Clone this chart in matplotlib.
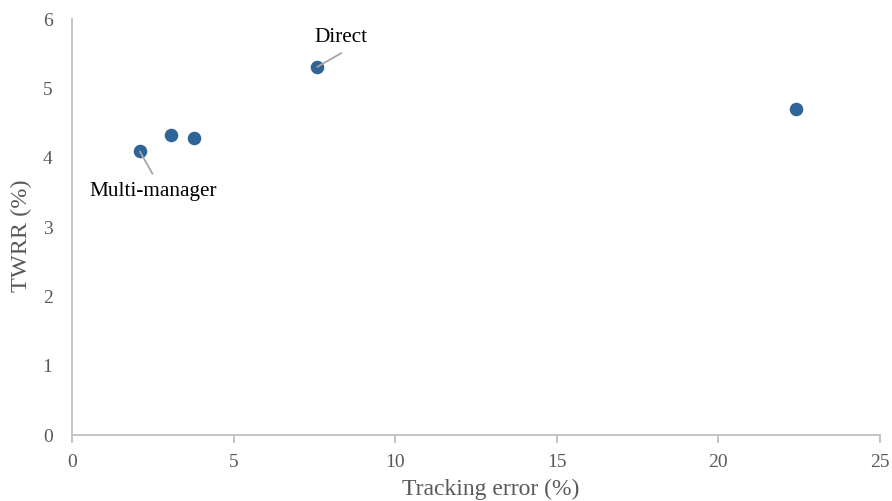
import matplotlib
matplotlib.use("Agg")
import matplotlib.pyplot as plt

# Data
tracking_error = [2.10, 3.06, 3.77, 7.59, 22.41]
twrr = [4.09, 4.32, 4.28, 5.31, 4.70]
labels = ["Multi-manager", None, None, "Direct", None]

x_ticks = [0, 5, 10, 15, 20, 25]
y_ticks = [0, 1, 2, 3, 4, 5, 6]

plt.rcParams['font.family'] = ['Liberation Serif', 'DejaVu Serif']

fig = plt.figure(figsize=(8.92, 5.01), dpi=100)
ax = fig.add_axes([72/892, 1-435/501, (880-72)/892, (435-19)/501])

ax.scatter(tracking_error, twrr, s=95, color='#2f6498', zorder=3, linewidths=0)

spine_c = '#bfbfbf'
for s in ['top', 'right']:
    ax.spines[s].set_visible(False)
for s in ['left', 'bottom']:
    ax.spines[s].set_color(spine_c)
    ax.spines[s].set_linewidth(1.3)

ax.set_xlim(0, 25)
ax.set_ylim(0, 6)
ax.set_xticks(x_ticks)
ax.set_yticks(y_ticks)
ax.tick_params(axis='x', direction='out', length=6, width=1.3, color=spine_c,
               labelcolor='#595959', labelsize=14, pad=8)
ax.tick_params(axis='y', length=0, labelcolor='#595959', labelsize=14, pad=14)

ax.set_xlabel('Tracking error (%)', fontsize=17, color='#595959')
ax.set_ylabel('TWRR (%)', fontsize=17.5, color='#595959')
ax.xaxis.set_label_coords(0.518, -0.105)
ax.yaxis.set_label_coords(-0.05, 0.48)

# label placement (offset points): text centre, leader end
placement = {"Direct": ((17.3, 21.4), (17.3, 9.9)),
             "Multi-manager": ((9.7, -29.2), (9.1, -16.1))}
for x, y, lab in zip(tracking_error, twrr, labels):
    if lab is None:
        continue
    txt_off, line_off = placement[lab]
    ax.annotate('', xy=(x, y), xytext=line_off, textcoords='offset points',
                arrowprops=dict(arrowstyle='-', color='#a6a6a6', lw=1.3,
                                shrinkA=0, shrinkB=0), zorder=4)
    ax.annotate(lab, xy=(x, y), xytext=txt_off, textcoords='offset points',
                ha='center', va='center', fontsize=15.3, color='black')

fig.savefig('out.png', dpi=100)
